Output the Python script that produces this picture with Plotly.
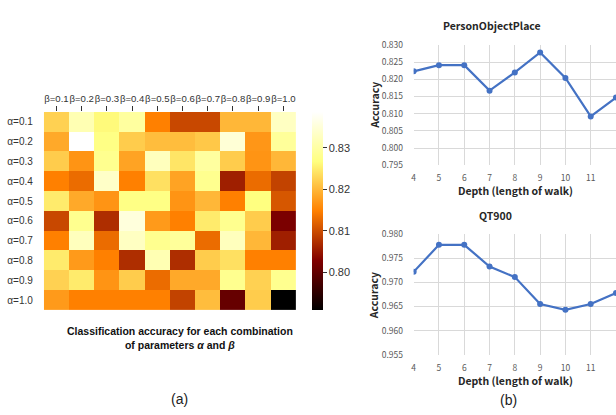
import plotly.graph_objects as go

# ---------------- data ----------------
beta_labels = ["β=0.1", "β=0.2", "β=0.3", "β=0.4", "β=0.5", "β=0.6", "β=0.7", "β=0.8", "β=0.9", "β=1.0"]
alpha_labels = ["α=0.1", "α=0.2", "α=0.3", "α=0.4", "α=0.5", "α=0.6", "α=0.7", "α=0.8", "α=0.9", "α=1.0"]

acc_a01 = [0.8224, 0.8315, 0.8262, 0.8296, 0.8148, 0.8096, 0.8096, 0.8200, 0.8200, 0.8329]
acc_a02 = [0.8186, 0.8386, 0.8272, 0.8219, 0.8205, 0.8205, 0.8215, 0.8348, 0.8169, 0.8291]
acc_a03 = [0.8219, 0.8167, 0.8281, 0.8181, 0.8324, 0.8243, 0.8296, 0.8219, 0.8167, 0.8200]
acc_a04 = [0.8148, 0.8129, 0.8334, 0.8148, 0.8238, 0.8181, 0.8281, 0.8058, 0.8129, 0.8091]
acc_a05 = [0.8248, 0.8186, 0.8167, 0.8272, 0.8272, 0.8167, 0.8200, 0.8148, 0.8267, 0.8110]
acc_a06 = [0.8096, 0.8281, 0.8072, 0.8353, 0.8172, 0.8148, 0.8248, 0.8281, 0.8219, 0.8024]
acc_a07 = [0.8148, 0.8324, 0.8129, 0.8329, 0.8281, 0.8291, 0.8129, 0.8324, 0.8200, 0.8058]
acc_a08 = [0.8248, 0.8172, 0.8148, 0.8072, 0.8315, 0.8072, 0.8219, 0.8238, 0.8148, 0.8148]
acc_a09 = [0.8224, 0.8248, 0.8167, 0.8219, 0.8129, 0.8186, 0.8186, 0.8281, 0.8224, 0.8281]
acc_a10 = [0.8172, 0.8148, 0.8148, 0.8148, 0.8148, 0.8091, 0.8205, 0.8005, 0.8219, 0.7910]

colorbar_ticks = [0.80, 0.81, 0.82, 0.83]

depth = [4, 5, 6, 7, 8, 9, 10, 11, 12]
pop_acc = [0.8223, 0.8241, 0.8241, 0.8167, 0.8220, 0.8278, 0.8204, 0.8092, 0.8147]
qt_acc = [0.9722, 0.9778, 0.9778, 0.9733, 0.9711, 0.9655, 0.9643, 0.9655, 0.9678]

# ---------------- figure ----------------
W, H = 616, 415


def px_x(p):
    return p / W


def px_y(p):
    return 1 - p / H


acc_matrix = [acc_a01, acc_a02, acc_a03, acc_a04, acc_a05,
              acc_a06, acc_a07, acc_a08, acc_a09, acc_a10]
flat = [v for row in acc_matrix for v in row]

afmhot = [
    [0.0, "rgb(0,0,0)"],
    [0.25, "rgb(128,0,0)"],
    [0.5, "rgb(255,128,0)"],
    [0.75, "rgb(255,255,128)"],
    [1.0, "rgb(255,255,255)"],
]

fig = go.Figure()

fig.add_trace(go.Heatmap(
    z=acc_matrix, x=beta_labels, y=alpha_labels,
    colorscale=afmhot, zmin=min(flat), zmax=max(flat),
    xaxis="x", yaxis="y",
    colorbar=dict(
        x=px_x(311), xanchor="left", xpad=0,
        y=px_y(210), yanchor="middle", len=204 / H, lenmode="fraction",
        thickness=11, ypad=0, outlinewidth=0,
        tickvals=colorbar_ticks, tickformat=".2f",
        ticks="outside", ticklen=4, tickcolor="#333333",
        tickfont=dict(family="Liberation Sans", size=11, color="#333333"),
    ),
))

line_style = dict(color="#4472C4", width=2.2)
marker_style = dict(color="#4472C4", size=6)

fig.add_trace(go.Scatter(x=depth, y=pop_acc, mode="lines+markers",
                         line=line_style, marker=marker_style,
                         xaxis="x2", yaxis="y2", showlegend=False))
fig.add_trace(go.Scatter(x=depth, y=qt_acc, mode="lines+markers",
                         line=line_style, marker=marker_style,
                         xaxis="x3", yaxis="y3", showlegend=False))

tick_font_r = dict(family="Noto Sans CJK JP", size=8.5, color="#595959")
grid_col = "#D9D9D9"
hidden_tick = "rgba(0,0,0,0)"

fig.update_layout(
    width=W, height=H,
    margin=dict(l=0, r=0, t=0, b=0),
    paper_bgcolor="white", plot_bgcolor="white",
    showlegend=False,
    xaxis=dict(
        domain=[px_x(42), px_x(295)], anchor="y", side="top",
        tickangle=0,
        ticks="outside", ticklen=5, tickcolor="#333333",
        tickfont=dict(family="Liberation Sans", size=9.6, color="#333333"),
        showgrid=False, zeroline=False, showline=False,
    ),
    yaxis=dict(
        domain=[px_y(312), px_y(108)], anchor="x", autorange="reversed",
        ticks="outside", ticklen=8, tickcolor=hidden_tick,
        tickfont=dict(family="Liberation Sans", size=10, color="#333333"),
        showgrid=False, zeroline=False, showline=False,
    ),
    xaxis2=dict(
        domain=[px_x(413), 1.0], anchor="y2", range=[4, 12], dtick=1,
        showgrid=True, gridcolor=grid_col, gridwidth=1,
        zeroline=False, showline=False, ticks="outside", ticklen=5, tickcolor=hidden_tick,
        tickfont=tick_font_r,
    ),
    yaxis2=dict(
        domain=[px_y(163), px_y(39)], anchor="x2", range=[0.795, 0.830],
        dtick=0.005, tickformat=".3f",
        showgrid=True, gridcolor=grid_col, gridwidth=1,
        zeroline=False, showline=False, ticks="outside", ticklen=8, tickcolor=hidden_tick,
        tickfont=tick_font_r,
    ),
    xaxis3=dict(
        domain=[px_x(413), 1.0], anchor="y3", range=[4, 12], dtick=1,
        showgrid=True, gridcolor=grid_col, gridwidth=1,
        zeroline=False, showline=False, ticks="outside", ticklen=5, tickcolor=hidden_tick,
        tickfont=tick_font_r,
    ),
    yaxis3=dict(
        domain=[px_y(358), px_y(234)], anchor="x3", range=[0.955, 0.980],
        dtick=0.005, tickformat=".3f",
        showgrid=True, gridcolor=grid_col, gridwidth=1,
        zeroline=False, showline=False, ticks="outside", ticklen=8, tickcolor=hidden_tick,
        tickfont=tick_font_r,
    ),
)

ann_font_b = dict(family="Noto Sans CJK JP", size=10.5, color="#262626")


def ann(text, x, y, font, angle=0):
    fig.add_annotation(text=text, x=px_x(x), y=px_y(y), xref="paper", yref="paper",
                       showarrow=False, xanchor="center", yanchor="middle",
                       font=font, textangle=angle)


ann("<b>Classification accuracy for each combination<br>of parameters <i>α</i> and <i>β</i></b>",
    179, 341, dict(family="Liberation Sans", size=10.5, color="#111111"))
ann("(a)", 178, 404, dict(family="Liberation Sans", size=14, color="#222222"))
ann("(b)", 508, 405, dict(family="Liberation Sans", size=14, color="#222222"))

ann("<b>PersonObjectPlace</b>", 492, 19, ann_font_b)
ann("<b>QT900</b>", 495, 215, ann_font_b)
ann("<b>Accuracy</b>", 373, 101, ann_font_b, angle=-90)
ann("<b>Accuracy</b>", 373, 297, ann_font_b, angle=-90)
ann("<b>Depth (length of walk)</b>", 515, 189, ann_font_b)
ann("<b>Depth (length of walk)</b>", 515, 385, ann_font_b)

fig.write_html(
    "out.html",
    config={"displayModeBar": False},
    post_script="document.body.style.margin='0px';document.body.style.overflow='hidden';",
)
